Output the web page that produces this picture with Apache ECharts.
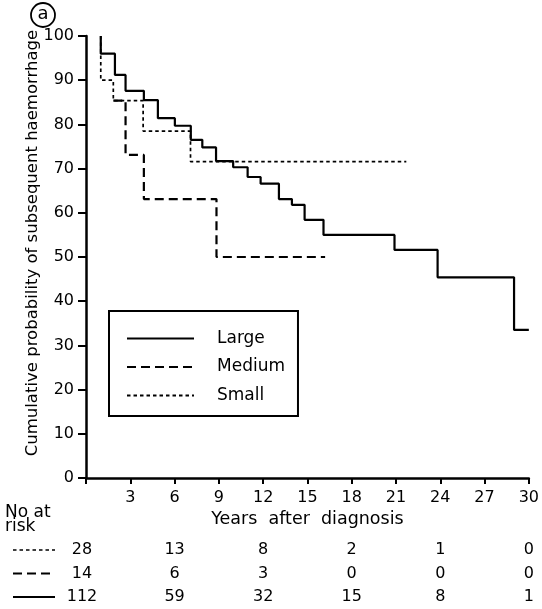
<!DOCTYPE html>
<html>
<head>
<meta charset="utf-8">
<script src="https://cdn.jsdelivr.net/npm/echarts@6/dist/echarts.min.js"></script>
<style>
  html, body { margin: 0; padding: 0; background: #fff; }
  #main { width: 542px; height: 609px; }
</style>
</head>
<body>
<div id="main"></div>
<script>
// survival curves: [years, cumulative %]
var largeData = [[1.0, 100], [1.0, 96], [1.96, 91.2], [2.68, 87.6], [3.92, 85.5], [4.87, 81.4],
  [6.02, 79.7], [7.1, 76.5], [7.88, 74.8], [8.81, 71.7], [9.97, 70.3], [10.95, 68.1],
  [11.83, 66.6], [13.07, 63.1], [13.95, 61.8], [14.81, 58.4], [16.09, 55.0], [20.9, 51.6],
  [23.82, 45.4], [29.0, 33.5], [30.0, 33.5]];
var mediumData = [[1.85, 85.4], [2.68, 73.1], [3.92, 63.1], [8.84, 50.0], [16.2, 50.0]];
var smallData = [[1.0, 100], [1.0, 90], [1.85, 85.4], [3.87, 78.5], [7.08, 71.6], [21.7, 71.6]];

// numbers at risk
var riskYears = [0, 6, 12, 18, 24, 30];
var riskSmall = [28, 13, 8, 2, 1, 0];
var riskMedium = [14, 6, 3, 0, 0, 0];
var riskLarge = [112, 59, 32, 15, 8, 1];

var FONT = 'DejaVu Sans';
var dashMedium = [9, 5];
var dashSmall = [3.5, 3];

var myChart = echarts.init(document.getElementById('main'), null, { renderer: 'canvas' });

var option = {
  backgroundColor: '#fff',
  animation: false,
  grid: { left: 86, right: 12, top: 36, bottom: 131, containLabel: false },
  legend: {
    orient: 'vertical',
    left: 109,
    top: 311,
    data: ['Large', 'Medium', 'Small'],
    itemWidth: 67,
    itemHeight: 14,
    itemGap: 11.5,
    padding: [19, 13, 12, 17],
    borderColor: '#000',
    borderWidth: 2,
    itemStyle: { opacity: 0 },
    textStyle: { fontFamily: FONT, fontSize: 17, color: '#000', padding: [0, 0, 0, 18] }
  },
  xAxis: {
    type: 'value',
    min: 0,
    max: 30,
    interval: 3,
    name: 'Years  after  diagnosis',
    nameLocation: 'middle',
    nameGap: 32,
    nameMoveOverlap: false,
    nameTextStyle: { fontFamily: FONT, fontSize: 17.5, color: '#000' },
    axisLine: { lineStyle: { color: '#000', width: 2.5 } },
    axisTick: { inside: false, length: 6, lineStyle: { color: '#000', width: 2 } },
    axisLabel: {
      fontFamily: FONT, fontSize: 16, color: '#000', margin: 12,
      formatter: function (v) { return v === 0 ? '' : String(v); }
    },
    splitLine: { show: false }
  },
  yAxis: {
    type: 'value',
    min: 0,
    max: 100,
    interval: 10,
    name: 'Cumulative probability of subsequent haemorrhage',
    nameLocation: 'middle',
    nameGap: 45,
    nameMoveOverlap: false,
    nameTextStyle: { fontFamily: FONT, fontSize: 16.5, color: '#000', padding: [0, 0, 0, 28] },
    axisLine: { show: true, lineStyle: { color: '#000', width: 2.5 } },
    axisTick: { show: true, length: 8, lineStyle: { color: '#000', width: 2 } },
    axisLabel: { fontFamily: FONT, fontSize: 16, color: '#000', margin: 12 },
    splitLine: { show: false }
  },
  series: [
    {
      name: 'Large', type: 'line', step: 'end', data: largeData,
      symbol: 'none', showSymbol: false,
      lineStyle: { color: '#000', width: 2.2 }, itemStyle: { color: '#000' }
    },
    {
      name: 'Medium', type: 'line', step: 'end', data: mediumData,
      symbol: 'none', showSymbol: false,
      lineStyle: { color: '#000', width: 2.2, type: dashMedium }, itemStyle: { color: '#000' }
    },
    {
      name: 'Small', type: 'line', step: 'end', data: smallData,
      symbol: 'none', showSymbol: false,
      lineStyle: { color: '#000', width: 1.7, type: dashSmall }, itemStyle: { color: '#000' }
    }
  ]
};
myChart.setOption(option);

// number-at-risk table below the axis, columns placed through the x scale
var rows = [
  { y: 550, counts: riskSmall, dash: dashSmall, w: 1.7 },
  { y: 573.5, counts: riskMedium, dash: dashMedium, w: 2.2 },
  { y: 597, counts: riskLarge, dash: null, w: 2.2 }
];
var graphics = [
  // circled panel letter
  { type: 'circle', shape: { cx: 43, cy: 15, r: 12 }, style: { fill: 'none', stroke: '#000', lineWidth: 1.8 } },
  { type: 'text', x: 43, y: 14, style: { text: 'a', fontFamily: FONT, fontSize: 18, fill: '#000', align: 'center', verticalAlign: 'middle' } },
  { type: 'text', x: 5, y: 506, style: { text: 'No at\nrisk', fontFamily: FONT, fontSize: 17, lineHeight: 14, fill: '#000' } }
];
rows.forEach(function (r) {
  graphics.push({
    type: 'line', shape: { x1: 13, y1: r.y, x2: 55, y2: r.y },
    style: { stroke: '#000', lineWidth: r.w, lineDash: r.dash }
  });
  r.counts.forEach(function (c, i) {
    var px = myChart.convertToPixel({ xAxisIndex: 0 }, riskYears[i]);
    if (i === 0) px = px - 4;
    graphics.push({
      type: 'text', x: px, y: r.y,
      style: { text: String(c), fontFamily: FONT, fontSize: 16, fill: '#000', align: 'center', verticalAlign: 'middle' }
    });
  });
});
myChart.setOption({ graphic: graphics });
</script>
</body>
</html>
